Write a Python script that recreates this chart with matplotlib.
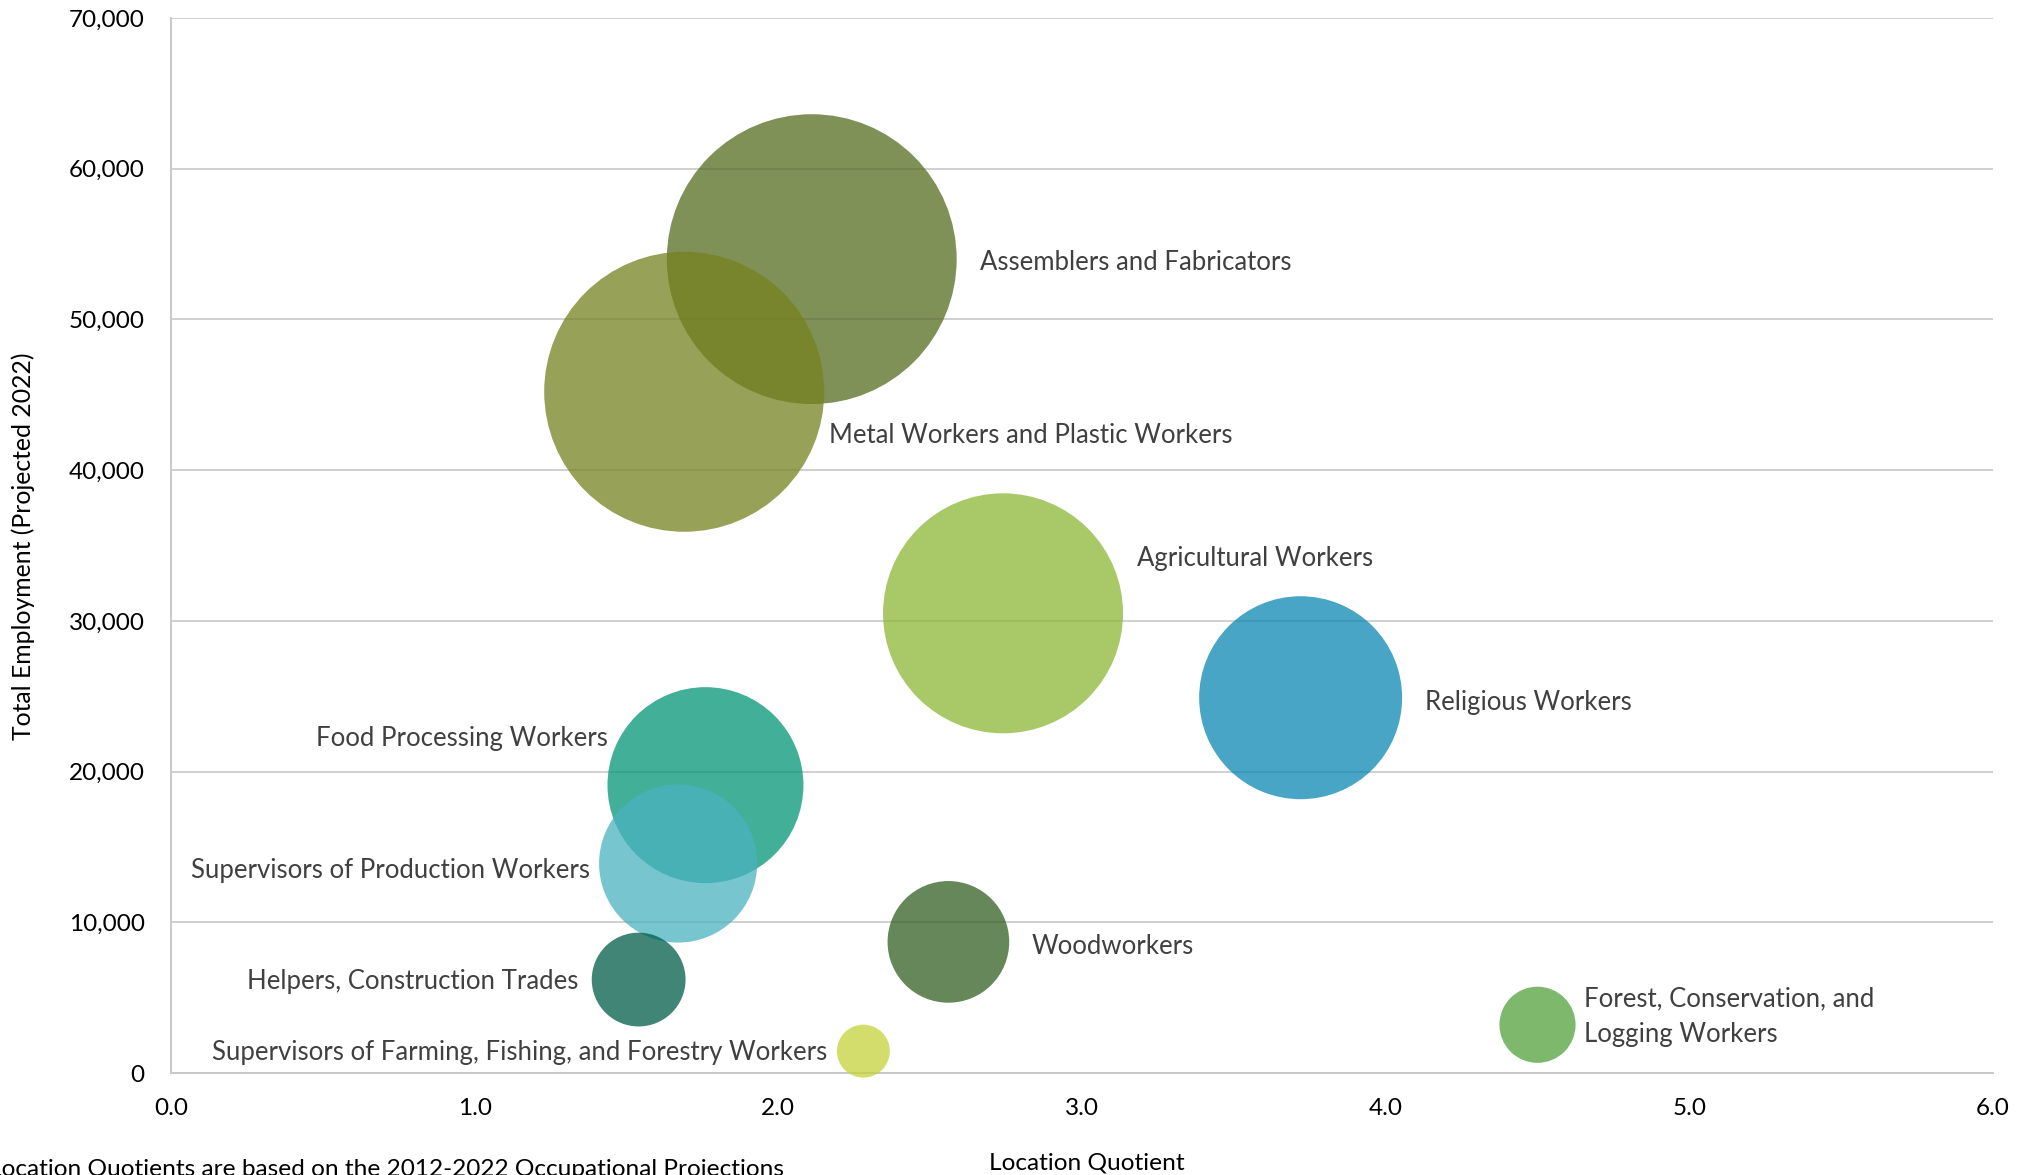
import matplotlib
matplotlib.use("Agg")
import matplotlib.pyplot as plt
import numpy as np

# occupational groups (bubble chart)
names = ["Assemblers and Fabricators",
         "Metal Workers and Plastic Workers",
         "Agricultural Workers",
         "Religious Workers",
         "Food Processing Workers",
         "Supervisors of Production Workers",
         "Woodworkers",
         "Helpers, Construction Trades",
         "Supervisors of Farming, Fishing, and Forestry Workers",
         "Forest, Conservation, and\nLogging Workers"]
location_quotient = [2.11, 1.69, 2.74, 3.72, 1.76, 1.67, 2.56, 1.54, 2.28, 4.50]
employment_2022 = [54000, 45200, 30500, 24900, 19100, 13900, 8700, 6200, 1450, 3200]
bubble_size = [21000, 19600, 14400, 10300, 9600, 6250, 3700, 2200, 700, 1450]

# colours as they look on white (bubbles are partly transparent)
seen_colors = ["#7f9157", "#98a158", "#a9c969", "#47a5c5", "#42b098", "#77c5d0",
               "#65875a", "#3f8575", "#d3dd6c", "#7eb86c"]
alpha = 0.75

# label offsets in pixels and alignment
label_dx = [168, 145, 134, 124, -98, -88, 83, -60, -36, 47]
label_dy = [-3, -44, 55, -5, 47, -7, -5, -2, -1, 8]
label_ha = ["left", "left", "left", "left", "right", "right", "left", "right", "right", "left"]


def base_color(hexcol):
    rgb = np.array([int(hexcol[i:i + 2], 16) for i in (1, 3, 5)]) / 255.0
    c = (rgb - (1 - alpha)) / alpha
    return tuple(np.clip(c, 0, 1))


colors = [base_color(c) for c in seen_colors]

dpi = 100
plt.rcParams['font.family'] = ['Lato', 'DejaVu Sans']

fig = plt.figure(figsize=(20.28, 11.75), dpi=dpi)
ax = fig.add_axes([171 / 2028, (1175 - 1073) / 1175, (1993 - 171) / 2028, (1073 - 18) / 1175])

# bubble area proportional to size value (radius in px = sqrt(size))
radius_px = np.sqrt(np.array(bubble_size, dtype=float))
s = (2 * radius_px * 72 / dpi) ** 2

ax.scatter(location_quotient, employment_2022, s=s, c=colors, alpha=alpha,
           edgecolors="none", zorder=3, clip_on=False)

for i in range(len(names)):
    ax.annotate(names[i], (location_quotient[i], employment_2022[i]),
                xytext=(label_dx[i], label_dy[i]), textcoords="offset pixels",
                ha=label_ha[i], va="center", fontsize=18.5, color="#404040",
                linespacing=1.55, zorder=4)

ax.set_xlim(0, 6)
ax.set_ylim(0, 70000)
ax.set_xticks(np.arange(0, 7, 1))
ax.set_xticklabels(["%.1f" % v for v in np.arange(0, 7, 1)])
ax.set_yticks(np.arange(0, 70001, 10000))
ax.set_yticklabels(["{:,}".format(v) for v in range(0, 70001, 10000)])
ax.tick_params(length=0, labelsize=17.5, colors="#000000")
ax.tick_params(axis="x", pad=18)
ax.tick_params(axis="y", pad=19)

ax.grid(axis="y", color="#d0d0d0", linewidth=1.4, zorder=0)
ax.set_axisbelow(True)
for side in ["top", "right"]:
    ax.spines[side].set_visible(False)
for side in ["left", "bottom"]:
    ax.spines[side].set_color("#c8c8c8")
    ax.spines[side].set_linewidth(1.4)

fig.text(23 / 2028, 1 - 546 / 1175, "Total Employment (Projected 2022)", rotation=90,
         ha="center", va="center", fontsize=17.8, color="#000000")
fig.text(1087 / 2028, 1 - 1163 / 1175, "Location Quotient", ha="center", va="center",
         fontsize=17.6, color="#000000")
fig.text(-11 / 2028, 1 - 1169 / 1175,
         "Location Quotients are based on the 2012-2022 Occupational Projections",
         ha="left", va="center", fontsize=17.6, color="#000000")

fig.savefig("out.png", dpi=dpi)
